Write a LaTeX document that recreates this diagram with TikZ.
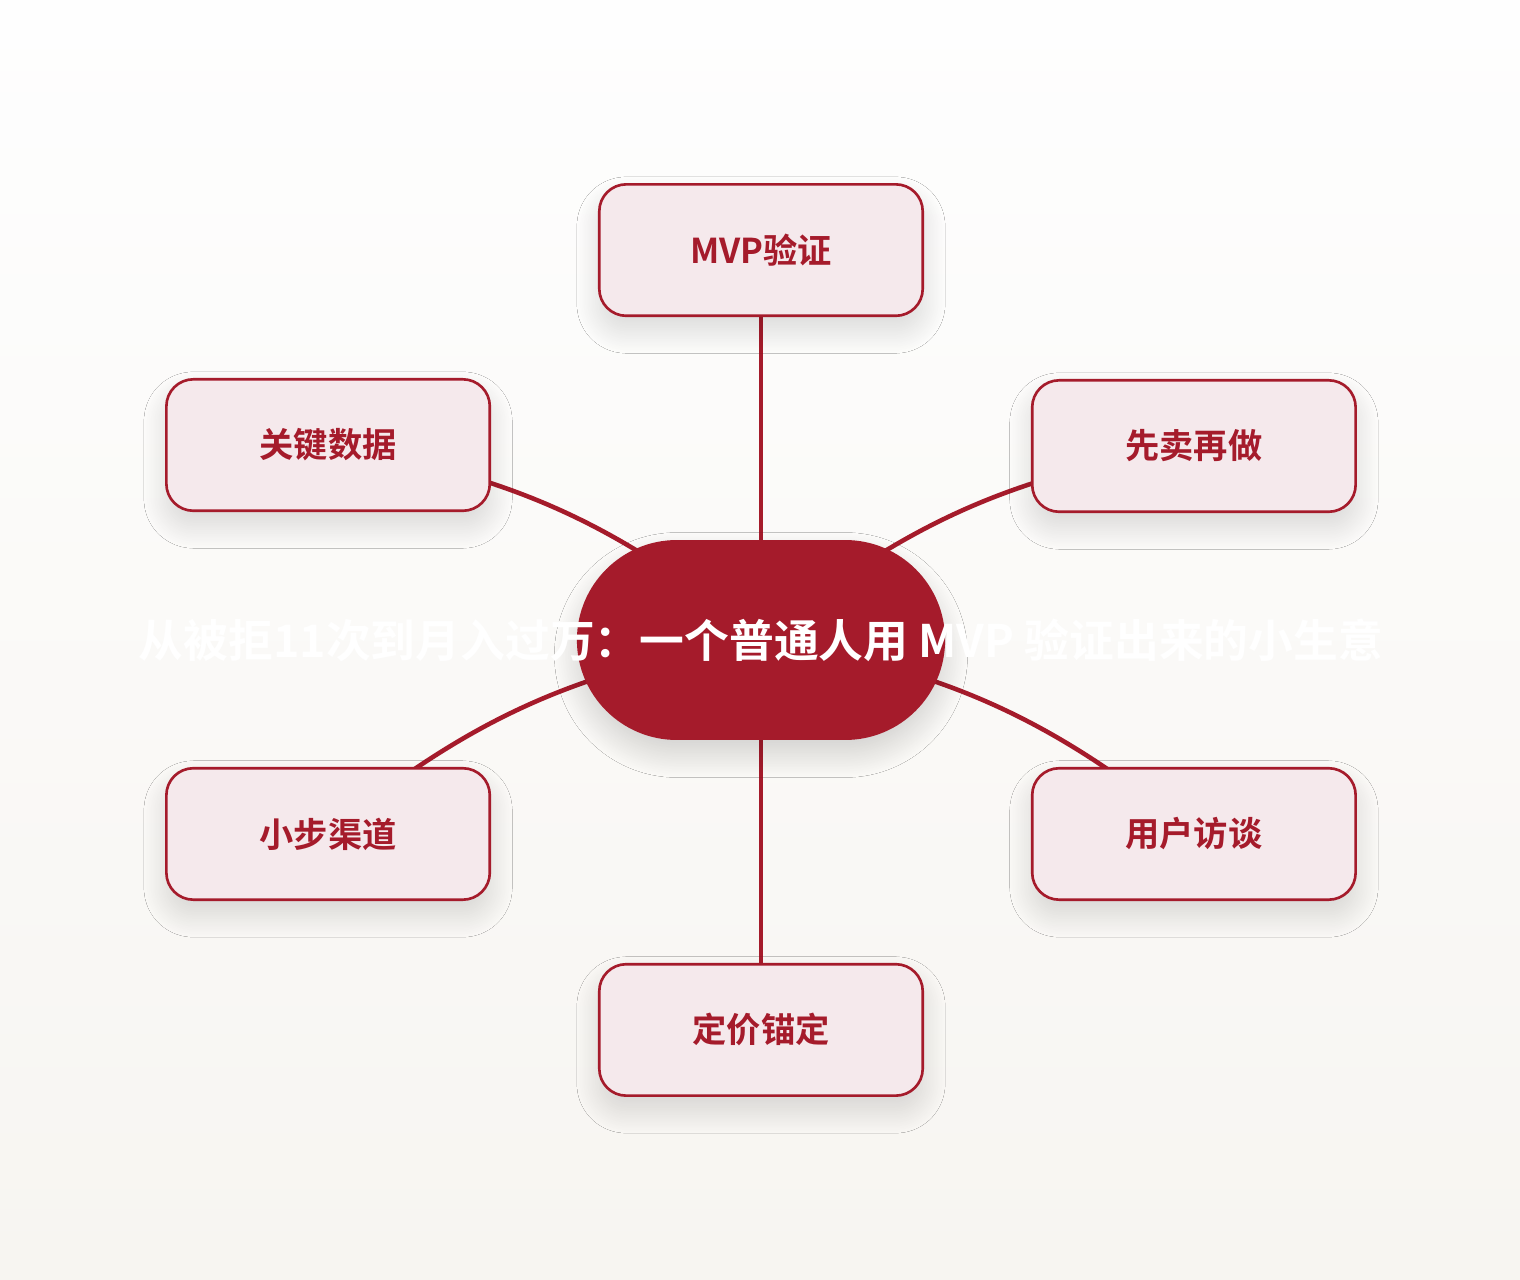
\documentclass[tikz,border=0pt]{standalone}
\usepackage{fontspec}
\newfontfamily\cjk{Noto Sans CJK SC}[BoldFont=* Bold]
\usetikzlibrary{positioning,shapes.misc,shadows.blur}
\definecolor{zhuhong}{HTML}{A51B2B}
\definecolor{fenbai}{HTML}{F5E9EC}
\definecolor{bgtop}{HTML}{FEFEFE}
\definecolor{bgbot}{HTML}{F7F5F1}
\pgfdeclarelayer{bg}
\pgfdeclarelayer{lines}
\pgfsetlayers{bg,lines,main}

\begin{document}
\begin{tikzpicture}[x=0.02cm, y=-0.02cm]
    \tikzstyle{link} = [draw = zhuhong, line width = 2.6pt]
    \tikzstyle{leaf} = [rectangle, rounded corners = 0.54cm, minimum width = 6.47cm, minimum height = 2.63cm, text centered, draw = zhuhong, line width = 1.5pt, fill = fenbai, text = zhuhong, font = \cjk\bfseries\fontsize{19.5}{22}\selectfont, blur shadow = {shadow xshift = 0pt, shadow yshift = -0.3cm, shadow blur radius = 0.45cm, shadow blur steps = 30, shadow opacity = 14}]
    \tikzstyle{hub} = [rounded rectangle, minimum width = 7.6cm, minimum height = 4cm, fill = zhuhong, blur shadow = {shadow xshift = 0pt, shadow yshift = -0.3cm, shadow blur radius = 0.45cm, shadow blur steps = 30, shadow opacity = 16}]
    \tikzstyle{title} = [text = white, font = \cjk\bfseries\fontsize{25.5}{28}\selectfont]

    \node[hub](hub) at (761,640){};
    \node[title](T) at (hub){从被拒11次到月入过万：一个普通人用 MVP 验证出来的小生意};

    \node[leaf, above of = hub, yshift = 6.8cm](mvp){MVP验证};
    \node[leaf, left of = hub, xshift = -7.66cm, yshift = 3.9cm](kd){关键数据};
    \node[leaf, right of = hub, xshift = 7.66cm, yshift = 3.88cm](xm){先卖再做};
    \node[leaf, left of = hub, xshift = -7.66cm, yshift = -3.88cm](xb){小步渠道};
    \node[leaf, right of = hub, xshift = 7.66cm, yshift = -3.88cm](yh){用户访谈};
    \node[leaf, below of = hub, yshift = -6.8cm](dj){定价锚定};

    \begin{pgfonlayer}{lines}
    \draw[link] (hub.center)--(mvp.center);
    \draw[link] (hub.center)--(dj.center);
    \draw[link] (hub.center) to[bend right = 15] (kd.center);
    \draw[link] (hub.center) to[bend left = 15] (xm.center);
    \draw[link] (hub.center) to[bend right = 15] (xb.center);
    \draw[link] (hub.center) to[bend left = 15] (yh.center);
    \end{pgfonlayer}

    \begin{pgfonlayer}{bg}
    \shade[top color = bgtop, bottom color = bgbot] (0,0) rectangle (1520,1280);
    \end{pgfonlayer}
\end{tikzpicture}
\end{document}
